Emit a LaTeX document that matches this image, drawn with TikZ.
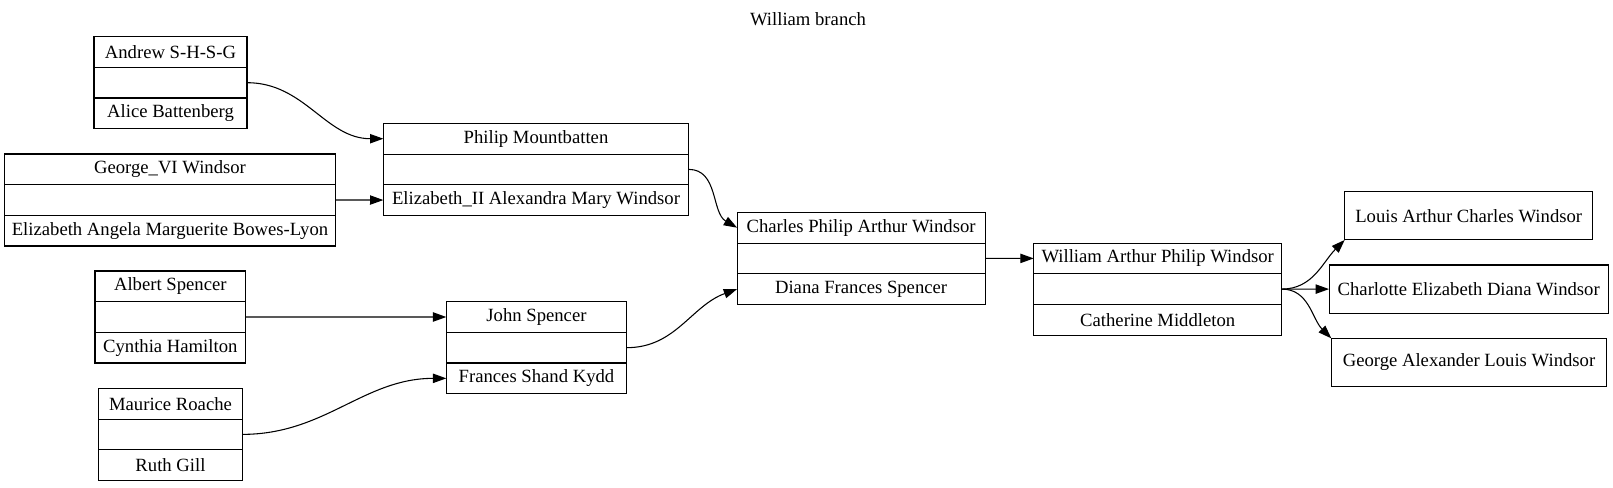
\documentclass[tikz,border=0pt]{standalone}
\usepackage{fontspec}
\setmainfont{Liberation Serif}
\usetikzlibrary{positioning}
\usetikzlibrary{arrows.meta}

\begin{document}
\begin{tikzpicture}[x=0.75pt,y=-0.75pt,
  every node/.style={font=\fontsize{14pt}{16pt}\selectfont},
  field/.style={draw, line width=0.8pt, minimum width=#1, minimum height=23pt, inner sep=0pt, outer sep=0pt},
  single/.style={draw, line width=0.8pt, minimum width=#1, minimum height=36.2pt, inner sep=0pt, outer sep=0pt},
  link/.style={line width=0.8pt, -{Triangle[length=10pt,width=7pt]}}]

\useasboundingbox (0,0) rectangle (1613,487);

\node (title) at (808,19) {William branch};

% Andrew
  \node[field=114.75pt] (andrew) at (170.5,52) {Andrew S-H-S-G};
  \node[field=114.75pt, below=0pt of andrew] (andrewU) {};
  \node[field=114.75pt, below=0pt of andrewU] (alice) {Alice Battenberg};

% George VI
  \node[field=248pt] (george) at (170,169.3) {George\_VI Windsor};
  \node[field=248pt, below=0pt of george] (georgeU) {};
  \node[field=248pt, below=0pt of georgeU] (elizabeth) {Elizabeth Angela Marguerite Bowes-Lyon};

% Albert
  \node[field=113pt] (albert) at (170.3,286.3) {Albert Spencer};
  \node[field=113pt, below=0pt of albert] (albertU) {};
  \node[field=113pt, below=0pt of albertU] (cynthia) {Cynthia Hamilton};

% Maurice
  \node[field=107.8pt] (maurice) at (170.5,403.7) {Maurice Roache};
  \node[field=107.8pt, below=0pt of maurice] (mauriceU) {};
  \node[field=107.8pt, below=0pt of mauriceU] (ruth) {Ruth Gill};

% Philip
  \node[field=229pt] (philip) at (536,138.7) {Philip Mountbatten};
  \node[field=229pt, below=0pt of philip] (philipU) {};
  \node[field=229pt, below=0pt of philipU] (elizabethII) {Elizabeth\_II Alexandra Mary Windsor};

% John
  \node[field=135.3pt] (john) at (536.5,317) {John Spencer};
  \node[field=135.3pt, below=0pt of john] (johnU) {};
  \node[field=135.3pt, below=0pt of johnU] (frances) {Frances Shand Kydd};

% Charles
  \node[field=186pt] (charles) at (861.1,227.7) {Charles Philip Arthur Windsor};
  \node[field=186pt, below=0pt of charles] (charlesU) {};
  \node[field=186pt, below=0pt of charlesU] (diana) {Diana Frances Spencer};

% William
  \node[field=186pt] (william) at (1157.7,258.4) {William Arthur Philip Windsor};
  \node[field=186pt, below=0pt of william] (williamU) {};
  \node[field=186pt, below=0pt of williamU] (catherine) {Catherine Middleton};

% children
  \node[single=186pt] (louis) at (1468.7,215.8) {Louis Arthur Charles Windsor};
  \node[single=209.5pt] (charlotte) at (1468.7,289.1) {Charlotte Elizabeth Diana Windsor};
  \node[single=206.5pt] (georgeA) at (1469,362.5) {George Alexander Louis Windsor};

% links
\draw[link] (andrewU.east) to[out=0, in=180] (philip.west);
\draw[link] (georgeU.east) -- (elizabethII.west);
\draw[link] (albertU.east) -- (john.west);
\draw[link] (mauriceU.east) to[out=0, in=180] (frances.west);
\draw[link] (philipU.east) to[out=0, in=150] (charles.west);
\draw[link] (johnU.east) to[out=0, in=200] (diana.west);
\draw[link] (charlesU.east) -- (william.west);
\draw[link] (williamU.east) to[out=0, in=225] (louis.south west);
\draw[link] (williamU.east) -- (charlotte.west);
\draw[link] (williamU.east) to[out=0, in=135] (georgeA.north west);

\end{tikzpicture}
\end{document}
